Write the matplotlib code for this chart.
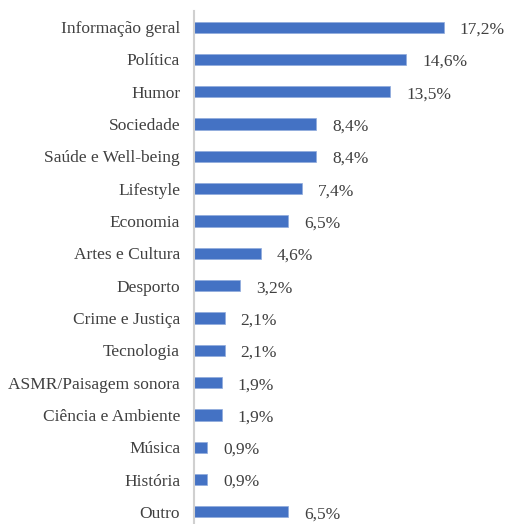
import matplotlib.pyplot as plt

categorias = ["Informação geral", "Política", "Humor", "Sociedade", "Saúde e Well-being",
              "Lifestyle", "Economia", "Artes e Cultura", "Desporto", "Crime e Justiça",
              "Tecnologia", "ASMR/Paisagem sonora", "Ciência e Ambiente", "Música",
              "História", "Outro"]
percentagens = [17.2, 14.6, 13.5, 8.4, 8.4, 7.4, 6.5, 4.6, 3.2, 2.1, 2.1, 1.9, 1.9, 0.9, 0.9, 6.5]

plt.rcParams['font.family'] = ['Liberation Serif', 'DejaVu Serif']
texto = "#404040"

fig = plt.figure(figsize=(5.07, 5.24), dpi=100)
ax = fig.add_axes([194 / 507, -4 / 524, 306 / 507, 517 / 524])

pos = list(range(len(categorias)))
ax.barh(pos, percentagens, height=0.35, color="#4472C4", edgecolor="#8FAADC", linewidth=0.5, zorder=3)

for y, v in zip(pos, percentagens):
    ax.text(v + 1.1, y + 0.08, f"{v:.1f}%".replace(".", ","), va="center", ha="left",
            fontsize=12.5, color=texto)

ax.set_xlim(0, 306 / 14.53)
ax.set_ylim(15.5, -0.5)
ax.set_yticks(pos)
ax.set_yticklabels(categorias, fontsize=12.5, color=texto)
ax.tick_params(axis="y", length=0, pad=10)
ax.set_xticks([])

for s in ["top", "right", "bottom"]:
    ax.spines[s].set_visible(False)
ax.spines["left"].set_color("#D0D0D0")
ax.spines["left"].set_linewidth(1.5)
ax.spines["left"].set_zorder(4)

fig.savefig("out.png", dpi=100)
